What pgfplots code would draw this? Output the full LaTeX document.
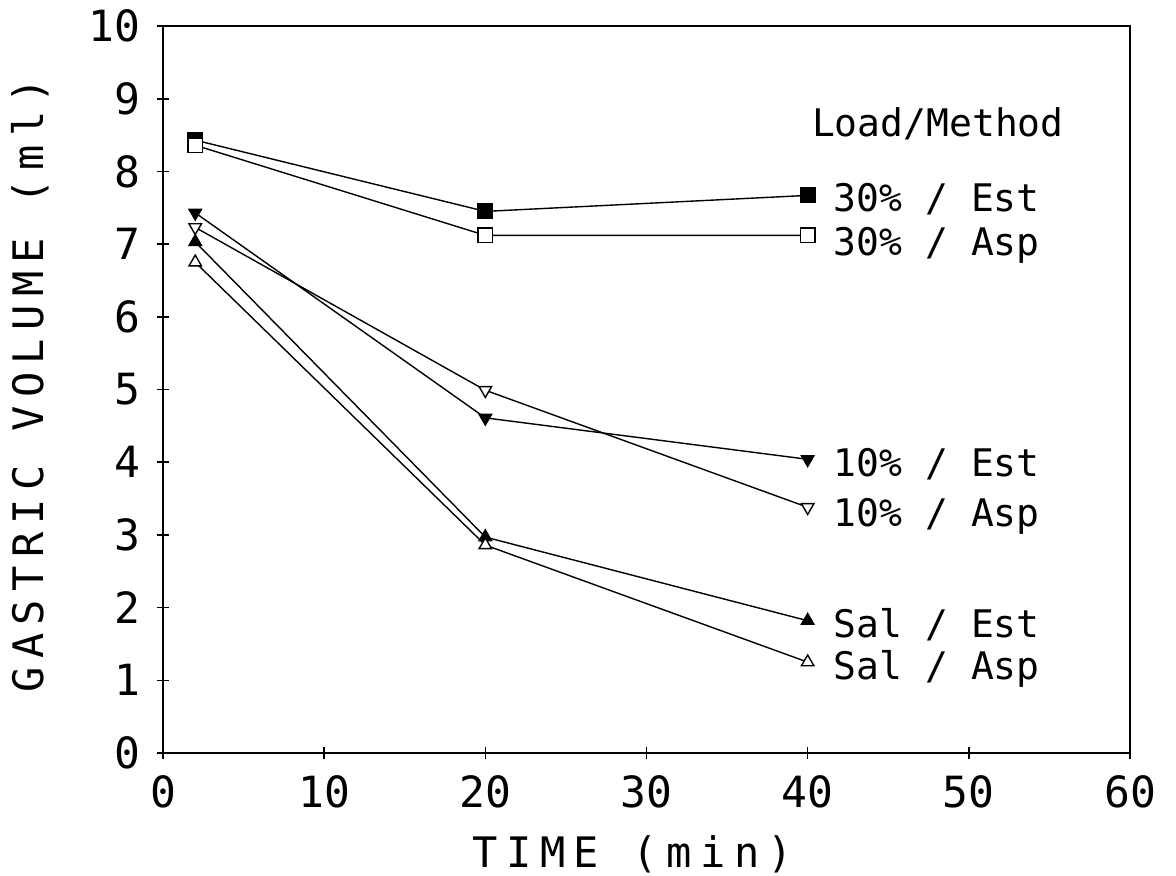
\documentclass[border=0pt]{standalone}
\usepackage{fontspec}
\setmainfont{DejaVu Sans Mono}
\newfontfamily\spfont[LetterSpace=20]{DejaVu Sans Mono}
\usepackage{pgfplots}
\pgfplotsset{compat=1.18}
\begin{document}
\fontsize{19}{23}\selectfont
\begin{tikzpicture}
\path[use as bounding box] (-81.5pt,-61pt) rectangle (506.5pt,376.5pt);
\begin{axis}[
  at={(0,0)}, anchor=south west,
  width=483.5pt, height=363.5pt, scale only axis,
  xmin=0, xmax=60, ymin=0, ymax=10,
  xtick={0,10,...,60}, ytick={0,1,...,10},
  axis line style={line width=0.8pt},
  tick style={line width=0.8pt, black},
  tick align=center, major tick length=6pt,
  xtick pos=bottom, ytick pos=left,
  /pgf/number format/assume math mode=true,
  ticklabel style={font=\fontsize{21.5}{25}\selectfont},
  xticklabel style={yshift=-2pt},
  yticklabel style={xshift=-2pt},
  xlabel={\spfont TIME (min)},
  ylabel={\spfont GASTRIC VOLUME (ml)},
  label style={font=\fontsize{21}{25}\selectfont},
  xlabel style={at={(axis description cs:0.486,0)}, anchor=center, yshift=-50.5pt},
  ylabel style={at={(axis description cs:0,0.506)}, anchor=center, yshift=66.5pt},
  every axis plot/.append style={black, line width=0.7pt, mark size=3.6pt},
  clip=false,
]
\addplot[mark=square*, mark options={fill=black}] coordinates {(2,8.43) (20,7.45) (40,7.67)};
\addplot[mark=square*, mark options={fill=white}] coordinates {(2,8.36) (20,7.12) (40,7.12)};
\addplot[mark=triangle*, mark options={rotate=180, fill=black}] coordinates {(2,7.43) (20,4.61) (40,4.04)};
\addplot[mark=triangle*, mark options={rotate=180, fill=white}] coordinates {(2,7.23) (20,4.99) (40,3.38)};
\addplot[mark=triangle*, mark options={fill=black}] coordinates {(2,7.03) (20,2.97) (40,1.82)};
\addplot[mark=triangle*, mark options={fill=white}] coordinates {(2,6.75) (20,2.86) (40,1.25)};
\node[anchor=west, inner sep=0pt] at (axis cs:40.25,8.65) {Load/Method};
\node[anchor=west, inner sep=0pt] at (axis cs:41.6,7.62) {30\% / Est};
\node[anchor=west, inner sep=0pt] at (axis cs:41.6,6.98) {30\% / Asp};
\node[anchor=west, inner sep=0pt] at (axis cs:41.6,3.97) {10\% / Est};
\node[anchor=west, inner sep=0pt] at (axis cs:41.6,3.25) {10\% / Asp};
\node[anchor=west, inner sep=0pt] at (axis cs:41.6,1.77) {Sal / Est};
\node[anchor=west, inner sep=0pt] at (axis cs:41.6,1.16) {Sal / Asp};
\end{axis}
\end{tikzpicture}
\end{document}
